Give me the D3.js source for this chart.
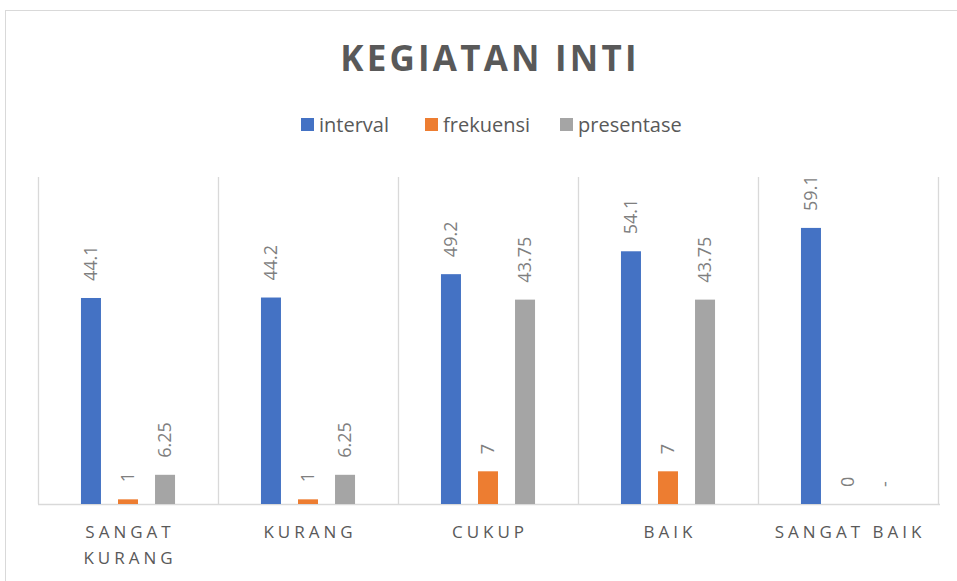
<!DOCTYPE html>
<html>
<head>
<meta charset="utf-8">
<script src="https://cdn.jsdelivr.net/npm/d3@7"></script>
<style>
  body { margin: 0; background: #fff; }
  text { font-family: "Open Sans", "Noto Sans", sans-serif; }
</style>
</head>
<body>
<svg id="chart" width="957" height="581"></svg>
<script>
const categories = [["SANGAT", "KURANG"], ["KURANG"], ["CUKUP"], ["BAIK"], ["SANGAT BAIK"]]
const series = ["interval", "frekuensi", "presentase"]
const colors = ["#4472c4", "#ed7d31", "#a5a5a5"]
const interval = [44.1, 44.2, 49.2, 54.1, 59.1]
const frekuensi = [1, 1, 7, 7, 0]
const presentase = [6.25, 6.25, 43.75, 43.75, null]
const yMax = 70

const svg = d3.select('#chart')
const values = [interval, frekuensi, presentase]

// chart border
svg.append('rect')
  .attr('x', 5.5).attr('y', 10.5)
  .attr('width', 1000).attr('height', 1000)
  .attr('fill', 'none').attr('stroke', '#d9d9d9')

const plot = { left: 38, right: 938, top: 177, bottom: 504 }

const x = d3.scaleBand()
  .domain(d3.range(categories.length))
  .range([plot.left, plot.right])

// bars 20px wide, 37px apart
const xs = d3.scaleBand()
  .domain(series)
  .range([0, x.bandwidth()])
  .paddingInner(0.46)
  .paddingOuter(1.16)

const y = d3.scaleLinear().domain([0, yMax]).range([plot.bottom, plot.top])

// title
svg.append('text')
  .attr('x', 490).attr('y', 71)
  .attr('text-anchor', 'middle')
  .attr('font-size', 35).attr('font-weight', 'bold')
  .attr('letter-spacing', 3.2)
  .attr('fill', '#595959')
  .text('KEGIATAN INTI')

// legend
const legendX = [301, 425, 560]
const leg = svg.append('g')
series.forEach((s, i) => {
  leg.append('rect')
    .attr('x', legendX[i]).attr('y', 118)
    .attr('width', 13).attr('height', 13)
    .attr('fill', colors[i])
  leg.append('text')
    .attr('x', legendX[i] + 18).attr('y', 132)
    .attr('font-size', 20)
    .attr('fill', '#595959')
    .text(s)
})

// vertical gridlines
svg.append('g')
  .selectAll('line')
  .data(d3.range(categories.length + 1))
  .join('line')
  .attr('x1', d => plot.left + d * x.step() + 0.5)
  .attr('x2', d => plot.left + d * x.step() + 0.5)
  .attr('y1', plot.top).attr('y2', plot.bottom)
  .attr('stroke', '#d9d9d9')
  .attr('stroke-width', 1.3)

// baseline
svg.append('line')
  .attr('x1', plot.left).attr('x2', plot.right + 2)
  .attr('y1', plot.bottom + 0.5).attr('y2', plot.bottom + 0.5)
  .attr('stroke', '#d9d9d9')
  .attr('stroke-width', 1.3)

// bars
series.forEach((s, si) => {
  const g = svg.append('g')
  values[si].forEach((v, ci) => {
    const bx = x(ci) + xs(s)
    if (v !== null && v > 0) {
      g.append('rect')
        .attr('x', bx).attr('width', xs.bandwidth())
        .attr('y', y(v)).attr('height', y(0) - y(v))
        .attr('fill', colors[si])
    }
    const top = v === null ? y(0) : y(v)
    g.append('text')
      .attr('transform', `translate(${bx + xs.bandwidth() / 2},${top - 17}) rotate(-90)`)
      .attr('dy', '0.35em')
      .attr('font-size', 18)
      .attr('fill', '#7f7f7f')
      .text(v === null ? '-' : v)
  })
})

// category labels
categories.forEach((lines, ci) => {
  const t = svg.append('text')
    .attr('text-anchor', 'middle')
    .attr('font-size', 17)
    .attr('letter-spacing', 4)
    .attr('fill', '#595959')
  lines.forEach((l, li) => {
    t.append('tspan')
      .attr('x', x(ci) + x.bandwidth() / 2 + 2)
      .attr('y', 538 + li * 26)
      .text(l)
  })
})
</script>
</body>
</html>
